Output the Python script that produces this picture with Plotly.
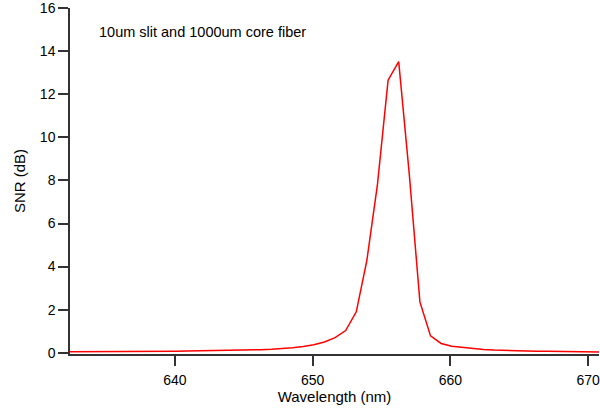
import plotly.graph_objects as go

wavelength_nm = [632.38, 633.15, 633.92, 634.69, 635.46, 636.23, 637.00, 637.77, 638.54, 639.31,
                 640.08, 640.85, 641.62, 642.39, 643.16, 643.93, 644.70, 645.47, 646.24, 647.01,
                 647.78, 648.55, 649.32, 650.09, 650.86, 651.63, 652.40, 653.17, 653.94, 654.71,
                 655.48, 656.25, 657.02, 657.79, 658.56, 659.33, 660.10, 660.87, 661.64, 662.41,
                 663.18, 663.95, 664.72, 665.49, 666.26, 667.03, 667.80, 668.57, 669.34, 670.11,
                 670.88]
snr_db = [0.04, 0.04, 0.045, 0.05, 0.045, 0.05, 0.055, 0.06, 0.06, 0.065,
          0.07, 0.075, 0.08, 0.085, 0.09, 0.10, 0.11, 0.12, 0.14, 0.16,
          0.19, 0.23, 0.29, 0.37, 0.50, 0.70, 1.03, 1.90, 4.29, 7.82,
          12.66, 13.52, 8.28, 2.36, 0.78, 0.43, 0.30, 0.24, 0.19, 0.15,
          0.12, 0.10, 0.09, 0.08, 0.07, 0.065, 0.06, 0.05, 0.045, 0.04,
          0.035]

x_ticks = [640, 650, 660, 670]
y_ticks = [0, 2, 4, 6, 8, 10, 12, 14, 16]

font = "Liberation Sans, Arial, sans-serif"

fig = go.Figure()
fig.add_trace(go.Scatter(x=wavelength_nm, y=snr_db, mode="lines",
                         line=dict(color="#ff0000", width=1.5), showlegend=False))

fig.update_layout(
    width=600, height=415,
    margin=dict(l=70, r=0, t=6, b=61),
    paper_bgcolor="white", plot_bgcolor="white",
    font=dict(family=font, size=14, color="black"),
    xaxis=dict(range=[632.39, 670.79], tickvals=x_ticks, ticks="outside", ticklen=10,
               tickwidth=1.5, tickcolor="#333", showline=True, linecolor="#333", linewidth=1.5,
               showgrid=False, zeroline=False, tickfont=dict(size=14),
               ticklabeloverflow="allow", ticklabelstandoff=2,
               title=dict(text="Wavelength (nm)", font=dict(size=15), standoff=3)),
    yaxis=dict(range=[-0.06, 16.01], tickvals=y_ticks, ticks="outside", ticklen=10,
               tickwidth=1.5, tickcolor="#333", showline=True, linecolor="#333", linewidth=1.5,
               showgrid=False, zeroline=False, tickfont=dict(size=14),
               ticklabeloverflow="allow",
               title=dict(text="SNR (dB)", font=dict(size=15), standoff=11)),
    annotations=[dict(text="10um slit and 1000um core fiber", xref="paper", yref="paper",
                      x=0.0515, y=0.93, xanchor="left", yanchor="middle", showarrow=False,
                      font=dict(size=14.5))],
)

fig.write_html("out.html")
